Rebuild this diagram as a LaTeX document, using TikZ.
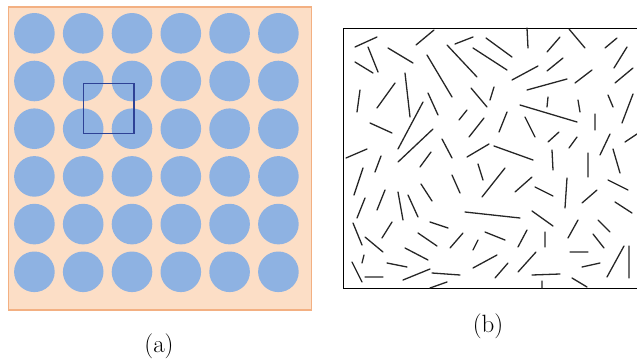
\documentclass[tikz,border=0pt]{standalone}
\definecolor{peach}{RGB}{252,222,198}
\definecolor{peachedge}{RGB}{243,176,130}
\definecolor{dotblue}{RGB}{142,178,226}
\definecolor{cellblue}{RGB}{46,66,150}
\tikzset{
  stick/.style={line width=1.3pt, black!85, line cap=round},
  caption/.style={font=\fontsize{25}{30}\selectfont, inner sep=0pt}
}
\begin{document}
\begin{tikzpicture}[x=1pt,y=-1pt]
  \useasboundingbox (0,0) rectangle (637,362);
  % Left panel: ordered array
  \draw[peachedge, fill=peach, line width=1.5pt] (8.5,7) rectangle (311.5,310);
  \foreach \i in {0,...,5}
    \foreach \j in {0,...,5}
      \fill[dotblue] (34.4+48.8*\i, 33.3+47.7*\j) circle (20.3);
  % Unit cell
  \draw[cellblue, line width=1.2pt] (83.5,83.5) rectangle (134,133.3);
  \node[caption] (lblA) at (159,346) {(a)};
  % Right panel: random sticks
  \draw[line width=1pt] (637,28) -- (343.3,28) -- (343.3,288.5) -- (637,288.5);
  % top band
  \draw[stick] (355,47) -- (377,37) (416,45) -- (434,30) (368,47) -- (378,72)
    (355,62) -- (373,73) (388,48) -- (413,63) (455,44) -- (473,37)
    (447,45) -- (477,77) (486,38) -- (512,57) (473,48) -- (507,70)
    (527,28) -- (528,48) (547,52) -- (560,37) (569,29) -- (585,48)
    (605,48) -- (617,38) (614,68) -- (627,47) (427,55) -- (452,97)
    (512,80) -- (538,66) (547,71) -- (563,58) (527,90) -- (567,79)
    (575,83) -- (592,70) (615,83) -- (633,68);
  % upper middle
  \draw[stick] (405,73) -- (410,117) (377,108) -- (395,83) (357,112) -- (360,90)
    (471,88) -- (487,107) (490,100) -- (494,87) (428,93) -- (438,115)
    (520,105) -- (577,122) (547,107) -- (548,97) (578,100) -- (580,112)
    (608,95) -- (613,107) (622,123) -- (633,94) (459,120) -- (467,110)
    (370,123) -- (392,133) (398,149) -- (423,102) (469,137) -- (484,118)
    (499,132) -- (507,112) (525,117) -- (535,137) (548,142) -- (559,132)
    (595,114) -- (595,130) (569,148) -- (577,137) (600,155) -- (610,134)
    (625,142) -- (637,134) (398,162) -- (433,129) (346,158) -- (367,149)
    (442,139) -- (452,158) (467,157) -- (489,144) (494,146) -- (533,160)
    (552,150) -- (553,170) (588,153) -- (588,177) (613,149) -- (620,173);
  % lower left
  \draw[stick] (375,172) -- (381,156) (420,167) -- (431,152) (354,195) -- (363,168)
    (377,210) -- (385,190) (357,218) -- (365,198) (398,192) -- (403,220)
    (408,195) -- (418,217) (421,184) -- (432,201) (353,223) -- (362,245)
    (382,238) -- (392,222) (365,237) -- (383,252) (430,222) -- (448,228)
    (418,233) -- (437,246) (405,248) -- (428,260) (362,263) -- (364,255)
    (387,263) -- (407,267) (352,262) -- (362,282) (365,277) -- (383,277)
    (403,280) -- (430,269) (432,273) -- (460,275) (430,288) -- (447,282);
  % lower middle and right
  \draw[stick] (478,164) -- (483,180) (482,197) -- (505,168) (452,175) -- (460,193)
    (515,192) -- (532,177) (465,212) -- (520,218) (485,232) -- (505,240)
    (518,247) -- (527,230) (450,248) -- (463,233) (473,250) -- (478,240)
    (473,268) -- (497,255) (495,278) -- (508,263) (518,272) -- (536,252)
    (532,211) -- (553,226) (532,275) -- (560,274) (535,187) -- (553,196)
    (567,178) -- (565,208) (582,203) -- (597,190) (608,180) -- (628,190)
    (615,202) -- (632,213) (568,238) -- (578,220) (598,220) -- (610,232)
    (545,232) -- (545,247) (593,234) -- (604,248) (570,252) -- (588,252)
    (582,267) -- (600,263) (607,277) -- (624,246) (629,246) -- (629,278)
    (542,281) -- (542,288) (572,278) -- (587,287);
  \node[caption] (lblB) at (488,326) {(b)};
\end{tikzpicture}
\end{document}
